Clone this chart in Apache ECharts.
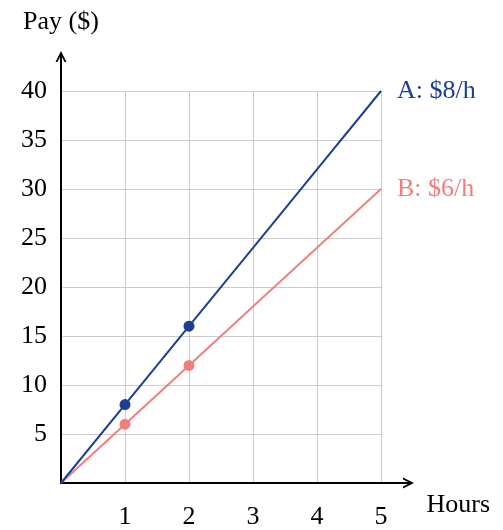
<!DOCTYPE html>
<html>
<head>
<meta charset="utf-8">
<script src="https://cdn.jsdelivr.net/npm/echarts@6/dist/echarts.min.js"></script>
<style>
  html, body { margin: 0; padding: 0; background: #fff; }
  #payChart { width: 503px; height: 530px; }
</style>
</head>
<body>
<div id="payChart"></div>
<script>
// hours worked and pay for the two hourly rates
const hours = [0, 1, 2, 3, 4, 5];
const payA = [0, 8, 16, 24, 32, 40];
const payB = [0, 6, 12, 18, 24, 30];
const markedHours = [1, 2];
const seriesNames = ['A: $8/h', 'B: $6/h'];
const colorA = '#1c3f94';
const colorB = '#f08080';
const font = 'Liberation Serif';
const fontSize = 26;

const chart = echarts.init(document.getElementById('payChart'));

function pairs(values) {
  return hours.map((h, i) => [h, values[i]]);
}

function dotSize(v) {
  return markedHours.includes(v[0]) ? 11 : 0;
}

// open arrow head (chevron) plus a stem so the axis line reaches the tip
const chevron = 'path://M0,10 L5,0 L10,10 L8.2,10 L5,3.6 L1.8,10 Z M4.5,1 L5.5,1 L5.5,10 L4.5,10 Z';

function arrowAxisLine() {
  return {
    show: true,
    lineStyle: { color: '#000', width: 2 },
    symbol: ['none', chevron],
    symbolSize: [20, 11],
    symbolOffset: [0, 0]
  };
}

chart.setOption({
  backgroundColor: '#fff',
  animation: false,
  textStyle: { fontFamily: font },
  grid: [
    { left: 61, top: 91, width: 320, height: 392 },
    { left: 61, top: 56.5, width: 347.5, bottom: 47 }
  ],
  xAxis: [
    {
      type: 'value',
      gridIndex: 0,
      min: 0,
      max: 5,
      interval: 1,
      axisLine: { show: false },
      axisTick: { show: false },
      axisLabel: {
        margin: 21,
        fontSize: fontSize,
        color: '#000',
        fontFamily: font,
        formatter: v => (v === 0 ? '' : String(v))
      },
      splitLine: { show: true, lineStyle: { color: '#cccccc', width: 1 } }
    },
    {
      type: 'value',
      gridIndex: 1,
      min: 0,
      max: 5.5,
      axisLine: arrowAxisLine(),
      axisTick: { show: false },
      axisLabel: { show: false },
      splitLine: { show: false },
      name: 'Hours',
      nameLocation: 'end',
      nameGap: 18,
      nameTextStyle: {
        fontSize: fontSize,
        color: '#000',
        fontFamily: font,
        align: 'left',
        verticalAlign: 'top',
        padding: [9, 0, 0, 0]
      }
    }
  ],
  yAxis: [
    {
      type: 'value',
      gridIndex: 0,
      min: 0,
      max: 40,
      interval: 5,
      axisLine: { show: false },
      axisTick: { show: false },
      axisLabel: {
        margin: 14,
        fontSize: fontSize,
        color: '#000',
        fontFamily: font,
        formatter: v => (v === 0 ? '' : String(v))
      },
      splitLine: { show: true, lineStyle: { color: '#cccccc', width: 1 } }
    },
    {
      type: 'value',
      gridIndex: 1,
      min: 0,
      max: 44,
      axisLine: arrowAxisLine(),
      axisTick: { show: false },
      axisLabel: { show: false },
      splitLine: { show: false },
      name: 'Pay ($)',
      nameLocation: 'end',
      nameGap: 21,
      nameTextStyle: {
        fontSize: fontSize,
        color: '#000',
        fontFamily: font,
        align: 'center'
      }
    }
  ],
  series: [
    {
      name: seriesNames[0],
      type: 'line',
      xAxisIndex: 0,
      yAxisIndex: 0,
      data: pairs(payA),
      showAllSymbol: true,
      symbol: 'circle',
      symbolSize: dotSize,
      itemStyle: { color: colorA },
      lineStyle: { color: colorA, width: 2 },
      endLabel: {
        show: true,
        formatter: seriesNames[0],
        distance: 16,
        fontSize: fontSize,
        fontFamily: font,
        color: colorA
      },
      z: 3
    },
    {
      name: seriesNames[1],
      type: 'line',
      xAxisIndex: 0,
      yAxisIndex: 0,
      data: pairs(payB),
      showAllSymbol: true,
      symbol: 'circle',
      symbolSize: dotSize,
      itemStyle: { color: colorB },
      lineStyle: { color: colorB, width: 2 },
      endLabel: {
        show: true,
        formatter: seriesNames[1],
        distance: 16,
        fontSize: fontSize,
        fontFamily: font,
        color: colorB
      },
      z: 2
    }
  ]
});
</script>
</body>
</html>
